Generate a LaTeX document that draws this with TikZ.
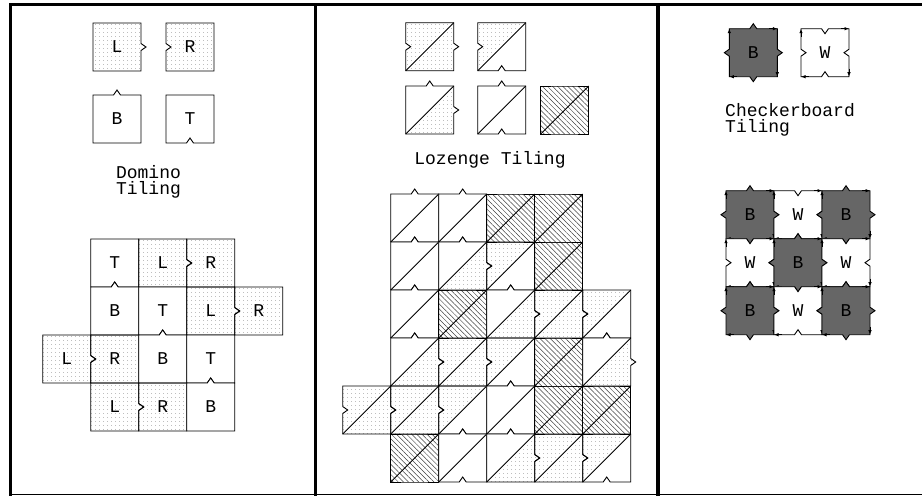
\documentclass[tikz,border=0pt]{standalone}
\usepackage{fontspec}
\setmonofont{Liberation Mono}
\usetikzlibrary{patterns.meta,arrows.meta}

\tikzset{
  tileline/.style={draw=black, line width=0.9pt, line join=miter},
  kind w/.style={fill=white},
  kind d/.style={pattern={Dots[distance=4pt,radius=0.45pt]}, pattern color=black!60},
  kind h/.style={pattern={Lines[angle=-45,distance=3.6pt,line width=0.5pt]}, pattern color=black!75},
  kind B/.style={fill=black!60},
  kind W/.style={fill=white},
  letter/.style={font=\ttfamily\fontsize{18}{16}\selectfont, inner sep=0pt},
  cornertip/.style={-{Latex[length=4.5pt,width=3.5pt]}, line width=0.8pt},
}

% square tile with a caret on each side: 1 out, -1 in, 0 none
\newcommand{\tilecell}[7][]{%
  \path[tileline,#1] (#2,#3) -- ({#2+20.5},#3) -- ({#2+24},{#3-5*(#4)}) -- ({#2+27.5},#3) -- ({#2+48},#3)
    -- ({#2+48},{#3+20.5}) -- ({#2+48+5*(#5)},{#3+24}) -- ({#2+48},{#3+27.5}) -- ({#2+48},{#3+48})
    -- ({#2+27.5},{#3+48}) -- ({#2+24},{#3+48+5*(#6)}) -- ({#2+20.5},{#3+48}) -- (#2,{#3+48})
    -- (#2,{#3+27.5}) -- ({#2-5*(#7)},{#3+24}) -- (#2,{#3+20.5}) -- cycle;}

% domino pieces
\newcommand{\domL}[3]{\tilecell[kind d]{#1}{#2}{0}{1}{0}{0}\node[letter] (#3) at ({#1+24},{#2+24}) {L};}
\newcommand{\domR}[3]{\tilecell[kind d]{#1}{#2}{0}{0}{0}{-1}\node[letter] (#3) at ({#1+24},{#2+24}) {R};}
\newcommand{\domB}[3]{\tilecell[kind w]{#1}{#2}{1}{0}{0}{0}\node[letter] (#3) at ({#1+24},{#2+24}) {B};}
\newcommand{\domT}[3]{\tilecell[kind w]{#1}{#2}{0}{0}{-1}{0}\node[letter] (#3) at ({#1+24},{#2+24}) {T};}

% lozenge square: upper-left and lower-right halves (w, d or h)
\newcommand{\lozcell}[4]{%
  \def\lzT{0}\def\lzL{0}\def\lzR{0}\def\lzB{0}%
  \if w#3\def\lzT{1}\fi
  \if d#3\def\lzL{-1}\fi
  \if d#4\def\lzR{1}\fi
  \if w#4\def\lzB{-1}\fi
  \fill[kind #3] (#1,{#2+48}) -- (#1,{#2+27.5}) -- ({#1-5*(\lzL)},{#2+24}) -- (#1,{#2+20.5}) -- (#1,#2)
    -- ({#1+20.5},#2) -- ({#1+24},{#2-5*(\lzT)}) -- ({#1+27.5},#2) -- ({#1+48},#2) -- cycle;
  \fill[kind #4] (#1,{#2+48}) -- ({#1+48},#2) -- ({#1+48},{#2+20.5}) -- ({#1+48+5*(\lzR)},{#2+24})
    -- ({#1+48},{#2+27.5}) -- ({#1+48},{#2+48}) -- ({#1+27.5},{#2+48}) -- ({#1+24},{#2+48+5*(\lzB)})
    -- ({#1+20.5},{#2+48}) -- cycle;
  \tilecell{#1}{#2}{\lzT}{\lzR}{\lzB}{\lzL}
  \draw[tileline] (#1,{#2+48}) -- ({#1+48},#2);}

% checkerboard square with arrowed sides
\newcommand{\checkcell}[4]{%
  \def\ck{1}\if W#3\def\ck{-1}\fi
  \tilecell[kind #3]{#1}{#2}{\ck}{\ck}{\ck}{\ck}
  \draw[cornertip] ({#1+40},#2) -- ({#1+48},#2);
  \draw[cornertip] ({#1+48},{#2+40}) -- ({#1+48},{#2+48});
  \draw[cornertip] ({#1+8},{#2+48}) -- (#1,{#2+48});
  \draw[cornertip] (#1,{#2+8}) -- (#1,#2);
  \node[letter] (#4) at ({#1+24},{#2+24}) {#3};}

\begin{document}
\begin{tikzpicture}[x=1pt, y=-1pt]
  \useasboundingbox (0,0) rectangle (922,496);

  % Frame
  \draw[line width=3pt] (10.5,4.5) -- (922,4.5);
  \draw[line width=3pt] (10.5,3) -- (10.5,496);
  \draw[line width=3.5pt] (315.3,4.5) -- (315.3,496);
  \draw[line width=3.5pt] (658,4.5) -- (658,496);
  \draw[line width=1.2pt] (10.5,494.8) -- (922,494.8);

  % Domino pieces
  \domL{93}{23}{pL}
  \domR{166}{23}{pR}
  \domB{93}{95}{pB}
  \domT{166}{95}{pT}
  \node[letter, align=center, anchor=base] (domlabel) at (148.5,194) {Domino\\Tiling};

  % Domino tiling
  \domT{90.7}{239}{d01}
  \domL{138.7}{239}{d02}
  \domR{186.7}{239}{d03}
  \domB{90.7}{287}{d11}
  \domT{138.7}{287}{d12}
  \domL{186.7}{287}{d13}
  \domR{234.7}{287}{d14}
  \domL{42.7}{335}{d20}
  \domR{90.7}{335}{d21}
  \domB{138.7}{335}{d22}
  \domT{186.7}{335}{d23}
  \domL{90.7}{383}{d31}
  \domR{138.7}{383}{d32}
  \domB{186.7}{383}{d33}

  % Lozenge pieces
  \lozcell{405.7}{22.7}{d}{d}
  \lozcell{477.7}{22.7}{d}{w}
  \lozcell{405.7}{86}{w}{d}
  \lozcell{477.7}{86}{w}{w}
  \lozcell{540.7}{86}{h}{h}
  \node[letter, anchor=base] (lozlabel) at (490,164.5) {Lozenge Tiling};

  % Lozenge tiling
  \lozcell{390.7}{194}{w}{w}
  \lozcell{438.7}{194}{w}{w}
  \lozcell{486.7}{194}{h}{h}
  \lozcell{534.7}{194}{h}{h}
  \lozcell{390.7}{242}{w}{w}
  \lozcell{438.7}{242}{w}{d}
  \lozcell{486.7}{242}{d}{w}
  \lozcell{534.7}{242}{h}{h}
  \lozcell{390.7}{290}{w}{w}
  \lozcell{438.7}{290}{h}{h}
  \lozcell{486.7}{290}{w}{d}
  \lozcell{534.7}{290}{d}{d}
  \lozcell{582.7}{290}{d}{w}
  \lozcell{390.7}{338}{w}{d}
  \lozcell{438.7}{338}{d}{d}
  \lozcell{486.7}{338}{d}{w}
  \lozcell{534.7}{338}{h}{h}
  \lozcell{582.7}{338}{w}{d}
  \lozcell{342.7}{386}{d}{d}
  \lozcell{390.7}{386}{d}{d}
  \lozcell{438.7}{386}{d}{w}
  \lozcell{486.7}{386}{w}{w}
  \lozcell{534.7}{386}{h}{h}
  \lozcell{582.7}{386}{h}{h}
  \lozcell{390.7}{434}{h}{h}
  \lozcell{438.7}{434}{w}{w}
  \lozcell{486.7}{434}{w}{d}
  \lozcell{534.7}{434}{d}{d}
  \lozcell{582.7}{434}{d}{w}

  % Checkerboard pieces
  \checkcell{729.3}{28.7}{B}{cB}
  \checkcell{801}{28.7}{W}{cW}
  \node[letter, align=left, anchor=base west] (chklabel) at (725,132) {Checkerboard\\Tiling};

  % Checkerboard tiling
  \checkcell{726}{190.7}{B}{c00}
  \checkcell{774}{190.7}{W}{c01}
  \checkcell{822}{190.7}{B}{c02}
  \checkcell{726}{238.7}{W}{c10}
  \checkcell{774}{238.7}{B}{c11}
  \checkcell{822}{238.7}{W}{c12}
  \checkcell{726}{286.7}{B}{c20}
  \checkcell{774}{286.7}{W}{c21}
  \checkcell{822}{286.7}{B}{c22}
\end{tikzpicture}
\end{document}
